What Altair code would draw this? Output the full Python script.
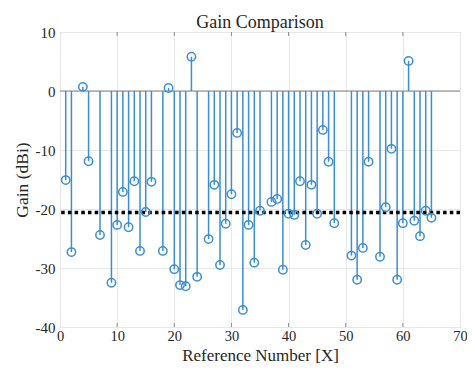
import altair as alt
import pandas as pd

ref_num = [1, 2, 4, 5, 7, 9, 10, 11, 12, 13, 14, 15, 16, 18, 19, 20, 21, 22, 23, 24,
           26, 27, 28, 29, 30, 31, 32, 33, 34, 35, 37, 38, 39, 40, 41, 42, 43, 44, 45, 46,
           47, 48, 51, 52, 53, 54, 56, 57, 58, 59, 60, 61, 62, 63, 64, 65]
gain = [-15.1, -27.3, 0.7, -11.9, -24.4, -32.5, -22.7, -17.1, -23.1, -15.3, -27.1, -20.5, -15.4, -27.1, 0.5, -30.2, -32.9, -33.1, 5.8, -31.5,
        -25.1, -15.9, -29.5, -22.5, -17.5, -7.1, -37.1, -22.7, -29.1, -20.3, -18.8, -18.3, -30.3, -20.8, -21.0, -15.3, -26.1, -15.9, -20.8, -6.6,
        -12.0, -22.4, -27.9, -32.0, -26.6, -12.0, -28.1, -19.7, -9.8, -32.0, -22.4, 5.1, -22.0, -24.6, -20.3, -21.5]
threshold = [-20.6]
x_ticks = [0, 10, 20, 30, 40, 50, 60, 70]
y_ticks = [-40, -30, -20, -10, 0, 10]

FONT = "Liberation Serif"
TXT = "#262626"
STEM = "#3b8ed0"

df = pd.DataFrame({"x": ref_num, "g": gain, "zero": [0] * len(ref_num)})
xs = alt.Scale(domain=[0, 70], nice=False)
ys = alt.Scale(domain=[-40, 10], nice=False)

X = alt.X("x:Q", scale=xs, title="Reference Number [X]",
          axis=alt.Axis(values=x_ticks, grid=True, labelFlush=False,
                        labelFont=FONT, labelFontSize=14.5, labelPadding=2,
                        labelExpr="'' + datum.value",
                        titleFont=FONT, titleFontSize=17,
                        titleY=33.5, titleBaseline="alphabetic"))
Y = alt.Y("g:Q", scale=ys, title="Gain (dBi)",
          axis=alt.Axis(values=y_ticks, grid=True, labelFlush=False,
                        labelFont=FONT, labelFontSize=15, labelPadding=5,
                        labelExpr="'' + datum.value",
                        titleFont=FONT, titleFontSize=17.5, titlePadding=4))

base_rule = alt.Chart(pd.DataFrame({"v": [0]})).mark_rule(
    color="#808080", strokeWidth=1).encode(y=alt.Y("v:Q", scale=ys))

stems = alt.Chart(df).mark_rule(color=STEM, strokeWidth=1.5).encode(
    x=X, y=Y, y2="zero:Q")

pts = alt.Chart(df).mark_point(filled=False, color=STEM, size=70, strokeWidth=1.5,
                               opacity=1).encode(x=X, y=Y)

thr = alt.Chart(pd.DataFrame({"t": threshold})).mark_rule(
    color="black", strokeWidth=3.5, strokeDash=[3.5, 3.2]).encode(
    y=alt.Y("t:Q", scale=ys))

tk = pd.DataFrame({"x": x_ticks[1:-1]})
ticks_bottom = alt.Chart(tk).mark_rule(color="#8c8c8c", strokeWidth=1).encode(
    x=alt.X("x:Q", scale=xs), y=alt.value(295), y2=alt.value(291))
ticks_top = alt.Chart(tk).mark_rule(color="#8c8c8c", strokeWidth=1).encode(
    x=alt.X("x:Q", scale=xs), y=alt.value(0), y2=alt.value(4))

chart = alt.layer(base_rule, stems, thr, pts, ticks_bottom, ticks_top).properties(
    width=400, height=295,
    title=alt.TitleParams("Gain Comparison", font=FONT, fontSize=18,
                          fontWeight="normal", color=TXT, offset=-7),
    autosize=alt.AutoSizeParams(type="none"),
    padding={"left": 52, "top": 24, "right": 7, "bottom": 37},
).configure_view(stroke="#8c8c8c", strokeWidth=1).configure_axis(
    domain=False, ticks=False, gridColor="#e8e8e8", gridWidth=1,
    labelColor=TXT, titleFontWeight="normal", titleColor=TXT,
)

chart.save("out.html", embed_options={"renderer": "svg", "actions": False})
